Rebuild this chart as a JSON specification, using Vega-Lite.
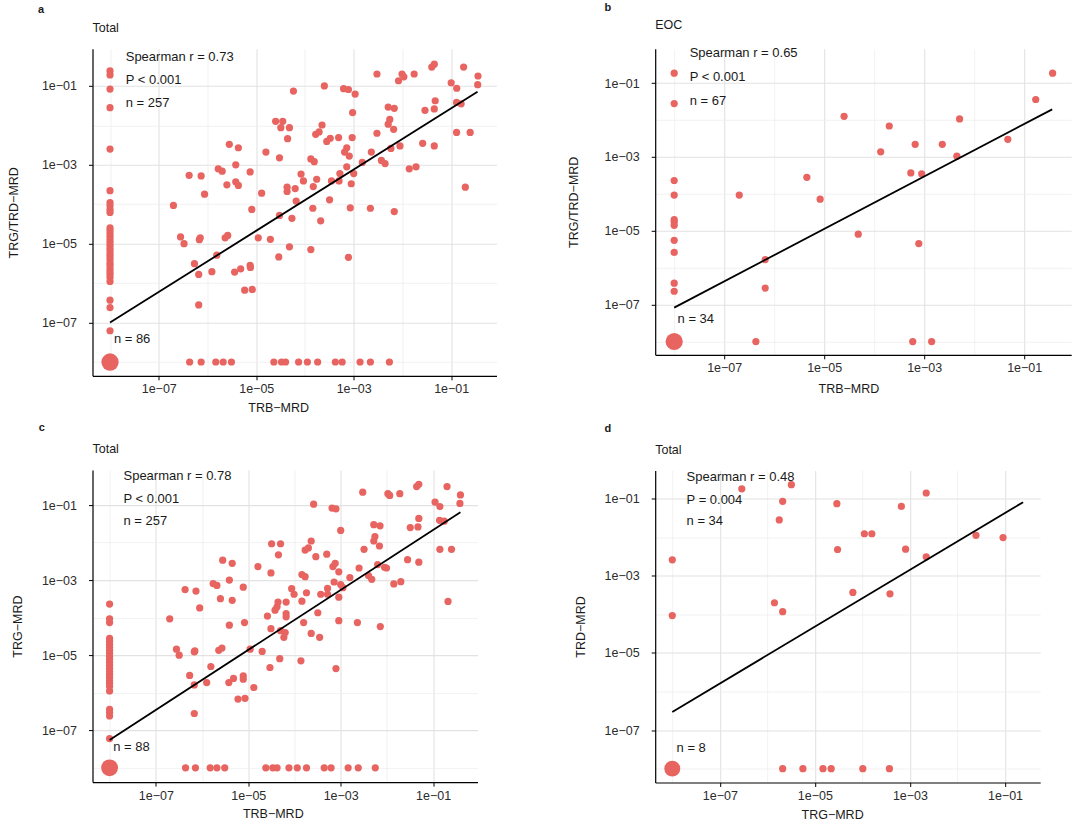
{
"$schema":"https://vega.github.io/schema/vega-lite/v6.json",
"background":"white",
"padding":{"left":7.5,"top":0.8,"right":5,"bottom":5},
"config":{
 "font":"Liberation Sans",
 "view":{"stroke":null},
 "axis":{"domainColor":"#000000","domainWidth":1.2,"tickColor":"#000000","tickWidth":1,"tickSize":4,"labelFont":"Liberation Sans","labelFontSize":12.5,"labelColor":"#2b2b2b","titleFont":"Liberation Sans","titleFontSize":12.5,"titleFontWeight":"normal","titleColor":"#1a1a1a","labelOverlap":false,"labelFlush":false},
 "title":{"font":"Liberation Sans","anchor":"start","frame":"group","color":"#1a1a1a"}
},
"datasets":{
 "a_pts":[
  {"TRB":2.0e-7,"TRG_TRD":9.3e-5},{"TRB":4.2e-7,"TRG_TRD":5.4e-4},{"TRB":7.4e-7,"TRG_TRD":5.2e-4},{"TRB":8.7e-7,"TRG_TRD":1.8e-4},{"TRB":1.66e-6,"TRG_TRD":7.9e-4},{"TRB":2.0e-6,"TRG_TRD":6.9e-4},{"TRB":2.5e-6,"TRG_TRD":3.1e-4},{"TRB":2.8e-6,"TRG_TRD":3.3e-3},{"TRB":4.3e-6,"TRG_TRD":2.7e-3},{"TRB":3.8e-6,"TRG_TRD":1.0e-3},
  {"TRB":3.8e-6,"TRG_TRD":3.7e-4},{"TRB":4.3e-6,"TRG_TRD":3.0e-4},{"TRB":7.5e-6,"TRG_TRD":6.6e-4},{"TRB":8.1e-6,"TRG_TRD":7.4e-5},{"TRB":1.29e-5,"TRG_TRD":1.9e-4},{"TRB":1.58e-5,"TRG_TRD":2.1e-3},{"TRB":2.5e-5,"TRG_TRD":1.26e-2},{"TRB":3.5e-5,"TRG_TRD":1.26e-2},{"TRB":3.2e-5,"TRG_TRD":8.7e-3},{"TRB":4.8e-5,"TRG_TRD":8.7e-3},
  {"TRB":3.0e-5,"TRG_TRD":1.5e-3},{"TRB":4.4e-5,"TRG_TRD":4.6e-3},{"TRB":4.3e-5,"TRG_TRD":2.7e-4},{"TRB":4.3e-5,"TRG_TRD":2.1e-4},{"TRB":6.3e-5,"TRG_TRD":2.5e-4},{"TRB":5.8e-5,"TRG_TRD":7.4e-2},{"TRB":6.6e-5,"TRG_TRD":1.2e-4},{"TRB":8.3e-5,"TRG_TRD":5.8e-4},{"TRB":9.3e-5,"TRG_TRD":3.9e-4},{"TRB":1.32e-4,"TRG_TRD":1.41e-3},
  {"TRB":1.55e-4,"TRG_TRD":1.2e-3},{"TRB":1.48e-4,"TRG_TRD":2.8e-4},{"TRB":1.74e-4,"TRG_TRD":4.3e-4},{"TRB":1.45e-4,"TRG_TRD":7.9e-5},{"TRB":2.24e-4,"TRG_TRD":1.02e-2},{"TRB":2.5e-4,"TRG_TRD":0.1},{"TRB":1.66e-4,"TRG_TRD":5.9e-3},{"TRB":1.95e-4,"TRG_TRD":6.8e-3},{"TRB":2.8e-4,"TRG_TRD":3.9e-3},{"TRB":3.3e-4,"TRG_TRD":4.7e-3},
  {"TRB":4.9e-4,"TRG_TRD":4.9e-3},{"TRB":3.2e-4,"TRG_TRD":1.29e-4},{"TRB":3.5e-4,"TRG_TRD":3.9e-4},{"TRB":5.0e-4,"TRG_TRD":3.9e-4},{"TRB":5.2e-4,"TRG_TRD":6.0e-4},{"TRB":6.2e-4,"TRG_TRD":8.5e-2},{"TRB":7.8e-4,"TRG_TRD":8.1e-2},{"TRB":1.07e-3,"TRG_TRD":6.2e-2},{"TRB":9.5e-4,"TRG_TRD":2.1e-2},{"TRB":9.3e-4,"TRG_TRD":4.9e-3},
  {"TRB":7.2e-4,"TRG_TRD":2.7e-3},{"TRB":6.5e-4,"TRG_TRD":2.1e-3},{"TRB":8.1e-4,"TRG_TRD":1.66e-3},{"TRB":7.2e-4,"TRG_TRD":8.9e-4},{"TRB":1.0e-3,"TRG_TRD":6.0e-4},{"TRB":8.9e-4,"TRG_TRD":3.3e-4},{"TRB":8.5e-4,"TRG_TRD":8.1e-5},{"TRB":1.5e-3,"TRG_TRD":1.15e-3},{"TRB":2.2e-3,"TRG_TRD":7.9e-5},{"TRB":2.3e-3,"TRG_TRD":2.1e-3},
  {"TRB":3.0e-3,"TRG_TRD":0.2},{"TRB":3.0e-3,"TRG_TRD":6.3e-3},{"TRB":5.1e-3,"TRG_TRD":2.9e-2},{"TRB":6.8e-3,"TRG_TRD":2.7e-2},{"TRB":5.5e-3,"TRG_TRD":1.41e-2},{"TRB":5.1e-3,"TRG_TRD":1.07e-2},{"TRB":6.6e-3,"TRG_TRD":7.9e-3},{"TRB":5.8e-3,"TRG_TRD":2.6e-3},{"TRB":8.9e-3,"TRG_TRD":3.0e-3},{"TRB":3.7e-3,"TRG_TRD":1.29e-3},
  {"TRB":4.4e-3,"TRG_TRD":1.07e-3},{"TRB":6.8e-3,"TRG_TRD":6.5e-5},{"TRB":8.3e-3,"TRG_TRD":0.135},{"TRB":9.8e-3,"TRG_TRD":0.2},{"TRB":1.07e-2,"TRG_TRD":0.17},{"TRB":1.74e-2,"TRG_TRD":0.2},{"TRB":1.38e-2,"TRG_TRD":7.9e-4},{"TRB":1.9e-2,"TRG_TRD":8.9e-4},{"TRB":2.6e-2,"TRG_TRD":3.5e-3},{"TRB":2.9e-2,"TRG_TRD":2.4e-2},
  {"TRB":4.5e-2,"TRG_TRD":2.6e-2},{"TRB":4.7e-2,"TRG_TRD":4.2e-2},{"TRB":4.0e-2,"TRG_TRD":0.3},{"TRB":4.5e-2,"TRG_TRD":0.355},{"TRB":4.5e-2,"TRG_TRD":3.0e-3},{"TRB":0.1,"TRG_TRD":0.12},{"TRB":0.13,"TRG_TRD":8.7e-2},{"TRB":0.18,"TRG_TRD":0.3},{"TRB":0.355,"TRG_TRD":0.178},{"TRB":0.35,"TRG_TRD":0.107},
  {"TRB":0.129,"TRG_TRD":3.8e-2},{"TRB":0.16,"TRG_TRD":3.5e-2},{"TRB":0.129,"TRG_TRD":6.6e-3},{"TRB":0.245,"TRG_TRD":6.6e-3},{"TRB":0.195,"TRG_TRD":2.7e-4},{"TRB":3.0e-5,"TRG_TRD":5.2e-5},{"TRB":5.4e-5,"TRG_TRD":4.4e-5},{"TRB":2.1e-4,"TRG_TRD":3.8e-5},{"TRB":2.8e-7,"TRG_TRD":1.48e-5},{"TRB":3.3e-7,"TRG_TRD":1.0e-5},
  {"TRB":6.8e-7,"TRG_TRD":1.26e-5},{"TRB":7.1e-7,"TRG_TRD":1.41e-5},{"TRB":2.3e-6,"TRG_TRD":1.41e-5},{"TRB":2.6e-6,"TRG_TRD":1.62e-5},{"TRB":1.55e-6,"TRG_TRD":5.1e-6},{"TRB":5.4e-7,"TRG_TRD":3.1e-6},{"TRB":6.6e-7,"TRG_TRD":1.66e-6},{"TRB":1.23e-6,"TRG_TRD":1.95e-6},{"TRB":3.6e-6,"TRG_TRD":1.9e-6},{"TRB":4.8e-6,"TRG_TRD":2.3e-6},
  {"TRB":7.5e-6,"TRG_TRD":2.8e-6},{"TRB":7.6e-6,"TRG_TRD":2.5e-6},{"TRB":1.1e-5,"TRG_TRD":1.41e-5},{"TRB":1.95e-5,"TRG_TRD":1.29e-5},{"TRB":2.9e-5,"TRG_TRD":4.6e-6},{"TRB":4.8e-5,"TRG_TRD":8.3e-6},{"TRB":1.32e-4,"TRG_TRD":7.1e-6},{"TRB":7.8e-4,"TRG_TRD":4.5e-6},{"TRB":5.8e-6,"TRG_TRD":6.6e-7},{"TRB":8.3e-6,"TRG_TRD":6.9e-7},
  {"TRB":6.6e-7,"TRG_TRD":2.8e-7},
  {"TRB":1e-8,"TRG_TRD":0.24},{"TRB":1e-8,"TRG_TRD":0.19},{"TRB":1e-8,"TRG_TRD":8.3e-2},{"TRB":1e-8,"TRG_TRD":2.8e-2},{"TRB":1e-8,"TRG_TRD":2.5e-3},{"TRB":1e-8,"TRG_TRD":2.2e-4},{"TRB":1e-8,"TRG_TRD":1.1e-4},{"TRB":1e-8,"TRG_TRD":9.1e-5},{"TRB":1e-8,"TRG_TRD":7.4e-5},{"TRB":1e-8,"TRG_TRD":6.2e-5},
  {"TRB":1e-8,"TRG_TRD":2.5e-5},{"TRB":1e-8,"TRG_TRD":2.14e-5},{"TRB":1e-8,"TRG_TRD":1.78e-5},{"TRB":1e-8,"TRG_TRD":1.51e-5},{"TRB":1e-8,"TRG_TRD":1.26e-5},{"TRB":1e-8,"TRG_TRD":1.07e-5},{"TRB":1e-8,"TRG_TRD":9.1e-6},{"TRB":1e-8,"TRG_TRD":7.6e-6},{"TRB":1e-8,"TRG_TRD":6.5e-6},{"TRB":1e-8,"TRG_TRD":5.4e-6},
  {"TRB":1e-8,"TRG_TRD":4.6e-6},{"TRB":1e-8,"TRG_TRD":3.9e-6},{"TRB":1e-8,"TRG_TRD":3.2e-6},{"TRB":1e-8,"TRG_TRD":2.75e-6},{"TRB":1e-8,"TRG_TRD":2.3e-6},{"TRB":1e-8,"TRG_TRD":1.95e-6},{"TRB":1e-8,"TRG_TRD":1.66e-6},{"TRB":1e-8,"TRG_TRD":1.38e-6},{"TRB":1e-8,"TRG_TRD":1.1e-6},{"TRB":1e-8,"TRG_TRD":3.7e-7},
  {"TRB":1e-8,"TRG_TRD":2.4e-7},{"TRB":1e-8,"TRG_TRD":6.2e-8},
  {"TRB":4.3e-7,"TRG_TRD":1e-8},{"TRB":7.4e-7,"TRG_TRD":1e-8},{"TRB":1.48e-6,"TRG_TRD":1e-8},{"TRB":2.1e-6,"TRG_TRD":1e-8},{"TRB":3.1e-6,"TRG_TRD":1e-8},{"TRB":2.3e-5,"TRG_TRD":1e-8},{"TRB":3.3e-5,"TRG_TRD":1e-8},{"TRB":4.0e-5,"TRG_TRD":1e-8},{"TRB":7.4e-5,"TRG_TRD":1e-8},{"TRB":1.12e-4,"TRG_TRD":1e-8},
  {"TRB":1.82e-4,"TRG_TRD":1e-8},{"TRB":4.2e-4,"TRG_TRD":1e-8},{"TRB":5.8e-4,"TRG_TRD":1e-8},{"TRB":1.35e-3,"TRG_TRD":1e-8},{"TRB":2.2e-3,"TRG_TRD":1e-8},{"TRB":5.4e-3,"TRG_TRD":1e-8}
 ],
 "a_zero":[{"TRB":1e-8,"TRG_TRD":1e-8,"count":86}],
 "a_line":[{"TRB":1e-8,"TRG_TRD":1.0e-7},{"TRB":0.347,"TRG_TRD":0.0708}],
 "a_text":[{"TRB":2.1e-8,"TRG_TRD":0.55,"label":"Spearman r = 0.73"},{"TRB":2.1e-8,"TRG_TRD":0.141,"label":"P < 0.001"},{"TRB":2.1e-8,"TRG_TRD":0.036,"label":"n = 257"},{"TRB":1.2e-8,"TRG_TRD":3.8e-8,"label":"n = 86"}],
 "b_pts":[
  {"TRB":1e-8,"TRG_TRD":0.186},{"TRB":1e-8,"TRG_TRD":2.8e-2},{"TRB":1e-8,"TRG_TRD":2.3e-4},{"TRB":1e-8,"TRG_TRD":9.3e-5},{"TRB":1e-8,"TRG_TRD":2.0e-5},{"TRB":1e-8,"TRG_TRD":1.74e-5},{"TRB":1e-8,"TRG_TRD":1.41e-5},{"TRB":1e-8,"TRG_TRD":5.5e-6},{"TRB":1e-8,"TRG_TRD":2.6e-6},{"TRB":1e-8,"TRG_TRD":3.8e-7},{"TRB":1e-8,"TRG_TRD":2.3e-7},
  {"TRB":2.0e-7,"TRG_TRD":9.3e-5},{"TRB":4.5e-6,"TRG_TRD":2.8e-4},{"TRB":8.3e-6,"TRG_TRD":7.2e-5},{"TRB":2.5e-5,"TRG_TRD":1.26e-2},{"TRB":1.35e-4,"TRG_TRD":1.38e-3},{"TRB":2.0e-4,"TRG_TRD":6.9e-3},{"TRB":5.4e-4,"TRG_TRD":3.7e-4},{"TRB":8.9e-4,"TRG_TRD":3.5e-4},{"TRB":6.6e-4,"TRG_TRD":2.2e-3},{"TRB":2.3e-3,"TRG_TRD":2.2e-3},
  {"TRB":4.5e-3,"TRG_TRD":1.05e-3},{"TRB":5.1e-3,"TRG_TRD":1.07e-2},{"TRB":4.7e-2,"TRG_TRD":3.0e-3},{"TRB":0.17,"TRG_TRD":3.6e-2},{"TRB":0.37,"TRG_TRD":0.186},{"TRB":6.6e-7,"TRG_TRD":1.66e-6},{"TRB":6.6e-7,"TRG_TRD":2.8e-7},{"TRB":4.8e-5,"TRG_TRD":8.1e-6},{"TRB":7.8e-4,"TRG_TRD":4.5e-6},
  {"TRB":4.3e-7,"TRG_TRD":1e-8},{"TRB":5.9e-4,"TRG_TRD":1e-8},{"TRB":1.41e-3,"TRG_TRD":1e-8}
 ],
 "b_zero":[{"TRB":1e-8,"TRG_TRD":1e-8,"count":34}],
 "b_line":[{"TRB":1e-8,"TRG_TRD":8.3e-8},{"TRB":0.363,"TRG_TRD":0.0195}],
 "b_text":[{"TRB":2.04e-8,"TRG_TRD":0.66,"label":"Spearman r = 0.65"},{"TRB":2.04e-8,"TRG_TRD":0.145,"label":"P < 0.001"},{"TRB":2.04e-8,"TRG_TRD":0.032,"label":"n = 67"},{"TRB":1.17e-8,"TRG_TRD":4.0e-8,"label":"n = 34"}],
 "c_pts":[
  {"TRB":2.0e-7,"TRG":9.3e-5},{"TRB":4.3e-7,"TRG":5.6e-4},{"TRB":7.4e-7,"TRG":5.1e-4},{"TRB":8.9e-7,"TRG":1.82e-4},{"TRB":1.74e-6,"TRG":8.1e-4},{"TRB":2.1e-6,"TRG":7.2e-4},{"TRB":2.5e-6,"TRG":3.2e-4},{"TRB":2.8e-6,"TRG":3.4e-3},{"TRB":4.5e-6,"TRG":2.8e-3},{"TRB":3.9e-6,"TRG":1.0e-3},
  {"TRB":4.5e-6,"TRG":2.9e-4},{"TRB":7.8e-6,"TRG":6.5e-4},{"TRB":1.62e-5,"TRG":2.3e-3},{"TRB":2.6e-5,"TRG":1.1e-4},{"TRB":3.2e-5,"TRG":9.3e-3},{"TRB":5.0e-5,"TRG":9.3e-3},{"TRB":4.5e-5,"TRG":4.7e-3},{"TRB":3.1e-5,"TRG":1.55e-3},{"TRB":4.4e-5,"TRG":2.6e-4},{"TRB":4.2e-5,"TRG":1.95e-4},
  {"TRB":6.6e-5,"TRG":2.6e-4},{"TRB":3.8e-5,"TRG":1.58e-4},{"TRB":6.6e-5,"TRG":1.29e-4},{"TRB":6.6e-5,"TRG":1.05e-4},{"TRB":8.7e-5,"TRG":5.9e-4},{"TRB":9.8e-5,"TRG":4.2e-4},{"TRB":1.45e-4,"TRG":1.41e-3},{"TRB":1.7e-4,"TRG":1.23e-3},{"TRB":1.45e-4,"TRG":2.75e-4},{"TRB":1.82e-4,"TRG":4.6e-4},
  {"TRB":2.6e-4,"TRG":0.105},{"TRB":2.3e-4,"TRG":1.1e-2},{"TRB":1.7e-4,"TRG":6.3e-3},{"TRB":2.0e-4,"TRG":7.2e-3},{"TRB":2.9e-4,"TRG":4.2e-3},{"TRB":3.2e-4,"TRG":1.35e-4},{"TRB":3.7e-4,"TRG":4.2e-4},{"TRB":5.2e-4,"TRG":4.2e-4},{"TRB":5.0e-4,"TRG":4.9e-3},{"TRB":5.2e-4,"TRG":6.0e-4},
  {"TRB":6.5e-4,"TRG":8.3e-2},{"TRB":7.9e-4,"TRG":7.9e-2},{"TRB":1.0e-3,"TRG":2.1e-2},{"TRB":6.8e-4,"TRG":2.3e-3},{"TRB":7.6e-4,"TRG":2.8e-3},{"TRB":9.1e-4,"TRG":1.66e-3},{"TRB":7.2e-4,"TRG":8.9e-4},{"TRB":1.0e-3,"TRG":7.6e-4},{"TRB":9.1e-4,"TRG":3.5e-4},{"TRB":1.12e-3,"TRG":6.3e-4},
  {"TRB":1.58e-3,"TRG":1.17e-3},{"TRB":2.5e-3,"TRG":2.1e-3},{"TRB":3.0e-3,"TRG":0.22},{"TRB":3.2e-3,"TRG":6.6e-3},{"TRB":5.2e-3,"TRG":3.0e-2},{"TRB":7.1e-3,"TRG":2.8e-2},{"TRB":5.5e-3,"TRG":1.44e-2},{"TRB":5.2e-3,"TRG":1.1e-2},{"TRB":6.9e-3,"TRG":8.1e-3},{"TRB":6.3e-3,"TRG":2.6e-3},
  {"TRB":8.9e-3,"TRG":2.2e-3},{"TRB":9.8e-3,"TRG":2.1e-3},{"TRB":4.0e-3,"TRG":1.32e-3},{"TRB":4.7e-3,"TRG":1.05e-3},{"TRB":1.05e-2,"TRG":0.2},{"TRB":1.15e-2,"TRG":0.18},{"TRB":1.9e-2,"TRG":0.2},{"TRB":1.41e-2,"TRG":7.9e-4},{"TRB":2.0e-2,"TRG":9.1e-4},{"TRB":2.8e-2,"TRG":3.5e-3},
  {"TRB":3.2e-2,"TRG":2.5e-2},{"TRB":4.7e-2,"TRG":2.6e-2},{"TRB":4.9e-2,"TRG":4.4e-2},{"TRB":4.4e-2,"TRG":0.31},{"TRB":4.9e-2,"TRG":0.355},{"TRB":4.9e-2,"TRG":3.0e-3},{"TRB":0.11,"TRG":0.12},{"TRB":0.14,"TRG":9.1e-2},{"TRB":0.2,"TRG":0.31},{"TRB":0.39,"TRG":0.186},
  {"TRB":0.38,"TRG":0.11},{"TRB":0.138,"TRG":3.9e-2},{"TRB":0.174,"TRG":3.7e-2},{"TRB":0.14,"TRG":6.6e-3},{"TRB":0.25,"TRG":6.6e-3},{"TRB":0.21,"TRG":2.7e-4},
  {"TRB":3.9e-6,"TRG":6.3e-5},{"TRB":8.3e-6,"TRG":7.4e-5},{"TRB":3.1e-5,"TRG":5.1e-5},{"TRB":5.0e-5,"TRG":4.5e-5},{"TRB":5.9e-5,"TRG":3.0e-5},{"TRB":6.3e-5,"TRG":4.0e-5},{"TRB":1.58e-4,"TRG":7.4e-5},{"TRB":2.3e-4,"TRG":3.8e-5},{"TRB":3.5e-4,"TRG":3.0e-5},{"TRB":9.1e-4,"TRG":8.3e-5},
  {"TRB":2.3e-3,"TRG":7.4e-5},{"TRB":7.2e-3,"TRG":5.8e-5},{"TRB":2.8e-7,"TRG":1.45e-5},{"TRB":3.2e-7,"TRG":1.0e-5},{"TRB":6.8e-7,"TRG":1.23e-5},{"TRB":7.0e-7,"TRG":1.3e-5},{"TRB":2.3e-6,"TRG":1.35e-5},{"TRB":2.7e-6,"TRG":1.55e-5},{"TRB":1.55e-6,"TRG":5.0e-6},{"TRB":5.4e-7,"TRG":2.9e-6},
  {"TRB":6.8e-7,"TRG":1.62e-6},{"TRB":1.26e-6,"TRG":1.86e-6},{"TRB":3.8e-6,"TRG":1.86e-6},{"TRB":4.8e-6,"TRG":2.4e-6},{"TRB":7.8e-6,"TRG":2.8e-6},{"TRB":7.8e-6,"TRG":2.3e-6},{"TRB":1.32e-5,"TRG":1.38e-6},{"TRB":6.0e-6,"TRG":6.8e-7},{"TRB":8.5e-6,"TRG":7.1e-7},{"TRB":6.8e-7,"TRG":2.8e-7},
  {"TRB":1.1e-5,"TRG":1.45e-5},{"TRB":2.0e-5,"TRG":1.26e-5},{"TRB":2.95e-5,"TRG":4.7e-6},{"TRB":4.8e-5,"TRG":8.1e-6},{"TRB":1.38e-4,"TRG":7.1e-6},{"TRB":7.9e-4,"TRG":4.4e-6},
  {"TRB":1e-8,"TRG":2.3e-4},{"TRB":1e-8,"TRG":9.3e-5},{"TRB":1e-8,"TRG":7.4e-5},{"TRB":1e-8,"TRG":2.8e-5},{"TRB":1e-8,"TRG":2.34e-5},{"TRB":1e-8,"TRG":1.95e-5},{"TRB":1e-8,"TRG":1.62e-5},{"TRB":1e-8,"TRG":1.35e-5},{"TRB":1e-8,"TRG":1.12e-5},{"TRB":1e-8,"TRG":9.3e-6},
  {"TRB":1e-8,"TRG":7.8e-6},{"TRB":1e-8,"TRG":6.5e-6},{"TRB":1e-8,"TRG":5.4e-6},{"TRB":1e-8,"TRG":4.5e-6},{"TRB":1e-8,"TRG":3.7e-6},{"TRB":1e-8,"TRG":3.1e-6},{"TRB":1e-8,"TRG":2.6e-6},{"TRB":1e-8,"TRG":2.1e-6},{"TRB":1e-8,"TRG":1.78e-6},{"TRB":1e-8,"TRG":1.48e-6},
  {"TRB":1e-8,"TRG":1.12e-6},{"TRB":1e-8,"TRG":3.6e-7},{"TRB":1e-8,"TRG":3.0e-7},{"TRB":1e-8,"TRG":2.4e-7},{"TRB":1e-8,"TRG":6.0e-8},
  {"TRB":4.4e-7,"TRG":1e-8},{"TRB":7.2e-7,"TRG":1e-8},{"TRB":1.5e-6,"TRG":1e-8},{"TRB":2.1e-6,"TRG":1e-8},{"TRB":3.1e-6,"TRG":1e-8},{"TRB":2.4e-5,"TRG":1e-8},{"TRB":3.4e-5,"TRG":1e-8},{"TRB":4.2e-5,"TRG":1e-8},{"TRB":7.6e-5,"TRG":1e-8},{"TRB":1.15e-4,"TRG":1e-8},
  {"TRB":1.82e-4,"TRG":1e-8},{"TRB":4.4e-4,"TRG":1e-8},{"TRB":6.2e-4,"TRG":1e-8},{"TRB":1.45e-3,"TRG":1e-8},{"TRB":2.4e-3,"TRG":1e-8},{"TRB":5.6e-3,"TRG":1e-8}
 ],
 "c_zero":[{"TRB":1e-8,"TRG":1e-8,"count":88}],
 "c_line":[{"TRB":1e-8,"TRG":5.5e-8},{"TRB":0.389,"TRG":0.0646}],
 "c_text":[{"TRB":2.0e-8,"TRG":0.59,"label":"Spearman r = 0.78"},{"TRB":2.0e-8,"TRG":0.148,"label":"P < 0.001"},{"TRB":2.0e-8,"TRG":0.037,"label":"n = 257"},{"TRB":1.2e-8,"TRG":3.6e-8,"label":"n = 88"}],
 "d_pts":[
  {"TRG":1e-8,"TRD":2.6e-3},{"TRG":1e-8,"TRD":9.3e-5},
  {"TRG":2.9e-7,"TRD":0.18},{"TRG":3.2e-6,"TRD":0.23},{"TRG":2.1e-6,"TRD":8.5e-2},{"TRG":1.78e-6,"TRD":2.8e-2},{"TRG":1.41e-6,"TRD":2.0e-4},{"TRG":2.1e-6,"TRD":1.17e-4},{"TRG":2.9e-5,"TRD":7.4e-2},{"TRG":3.0e-5,"TRD":4.8e-3},{"TRG":1.1e-4,"TRD":1.23e-2},{"TRG":1.58e-4,"TRD":1.23e-2},
  {"TRG":6.3e-5,"TRD":3.7e-4},{"TRG":3.8e-4,"TRD":3.4e-4},{"TRG":6.6e-4,"TRD":6.3e-2},{"TRG":8.1e-4,"TRD":4.9e-3},{"TRG":2.2e-3,"TRD":0.14},{"TRG":2.2e-3,"TRD":3.1e-3},{"TRG":2.45e-2,"TRD":1.12e-2},{"TRG":9.1e-2,"TRD":9.8e-3},
  {"TRG":2.1e-6,"TRD":1e-8},{"TRG":5.6e-6,"TRD":1e-8},{"TRG":1.48e-5,"TRD":1e-8},{"TRG":2.2e-5,"TRD":1e-8},{"TRG":1.02e-4,"TRD":1e-8},{"TRG":3.7e-4,"TRD":1e-8}
 ],
 "d_zero":[{"TRG":1e-8,"TRD":1e-8,"count":8}],
 "d_line":[{"TRG":1e-8,"TRD":2.95e-7},{"TRG":0.24,"TRD":0.081}],
 "d_text":[{"TRG":2.0e-8,"TRD":0.363,"label":"Spearman r = 0.48"},{"TRG":2.0e-8,"TRD":0.093,"label":"P = 0.004"},{"TRG":2.0e-8,"TRD":0.0257,"label":"n = 34"},{"TRG":1.23e-8,"TRD":3.5e-8,"label":"n = 8"}]
},
"hconcat":[
 {"vconcat":[
  {"title":{"text":"a","fontSize":11,"fontWeight":"bold","dx":-54.4,"offset":6.8},
   "vconcat":[{
    "width":404,"height":327,
    "title":{"text":"Total","fontSize":12.5,"fontWeight":"normal","offset":14.5},
    "encoding":{
     "x":{"field":"TRB","type":"quantitative","scale":{"type":"log","domain":[4.37e-9,0.851],"nice":false},
      "axis":{"values":[1e-8,1e-7,1e-6,1e-5,1e-4,1e-3,1e-2,1e-1],"labelExpr":"round(-log(datum.value)/LN10) % 2 == 1 ? '1e−0' + round(-log(datum.value)/LN10) : ''","grid":true,"gridColor":{"condition":{"test":"round(-log(datum.value)/LN10) % 2 == 1","value":"#E2E2E2"},"value":"#EEEEEE"},"gridWidth":{"condition":{"test":"round(-log(datum.value)/LN10) % 2 == 1","value":1.1},"value":0.8},"tickOpacity":{"condition":{"test":"round(-log(datum.value)/LN10) % 2 == 1","value":1},"value":0},"labelPadding":3,"title":"TRB−MRD","titleX":185.7,"titleY":32,"titleBaseline":"middle"}},
     "y":{"field":"TRG_TRD","type":"quantitative","scale":{"type":"log","domain":[4.47e-9,0.871],"nice":false},
      "axis":{"values":[1e-8,1e-7,1e-6,1e-5,1e-4,1e-3,1e-2,1e-1],"labelExpr":"round(-log(datum.value)/LN10) % 2 == 1 ? '1e−0' + round(-log(datum.value)/LN10) : ''","grid":true,"gridColor":{"condition":{"test":"round(-log(datum.value)/LN10) % 2 == 1","value":"#E2E2E2"},"value":"#EEEEEE"},"gridWidth":{"condition":{"test":"round(-log(datum.value)/LN10) % 2 == 1","value":1.1},"value":0.8},"tickOpacity":{"condition":{"test":"round(-log(datum.value)/LN10) % 2 == 1","value":1},"value":0},"labelPadding":12,"title":"TRG/TRD−MRD","titleX":-78.6,"titleBaseline":"middle"}}
    },
    "layer":[
     {"data":{"name":"a_pts"},"mark":{"type":"circle","size":52,"opacity":1,"color":"#E76461"}},
     {"data":{"name":"a_zero"},"mark":{"type":"circle","size":300,"opacity":1,"color":"#E76461"}},
     {"data":{"name":"a_line"},"mark":{"type":"line","color":"#000000","strokeWidth":1.8}},
     {"data":{"name":"a_text"},"mark":{"type":"text","align":"left","baseline":"middle","fontSize":13,"color":"#1a1a1a","font":"Liberation Sans"},"encoding":{"text":{"field":"label"}}}
    ]
   }]
  },
  {"title":{"text":"c","fontSize":11,"fontWeight":"bold","dx":-53.7,"offset":9.7},
   "vconcat":[{
    "width":385,"height":312,
    "title":{"text":"Total","fontSize":12.5,"fontWeight":"normal","offset":14.5},
    "encoding":{
     "x":{"field":"TRB","type":"quantitative","scale":{"type":"log","domain":[4.27e-9,0.912],"nice":false},
      "axis":{"values":[1e-8,1e-7,1e-6,1e-5,1e-4,1e-3,1e-2,1e-1],"labelExpr":"round(-log(datum.value)/LN10) % 2 == 1 ? '1e−0' + round(-log(datum.value)/LN10) : ''","grid":true,"gridColor":{"condition":{"test":"round(-log(datum.value)/LN10) % 2 == 1","value":"#E2E2E2"},"value":"#EEEEEE"},"gridWidth":{"condition":{"test":"round(-log(datum.value)/LN10) % 2 == 1","value":1.1},"value":0.8},"tickOpacity":{"condition":{"test":"round(-log(datum.value)/LN10) % 2 == 1","value":1},"value":0},"labelPadding":3,"title":"TRB−MRD","titleX":180.3,"titleY":31.3,"titleBaseline":"middle"}},
     "y":{"field":"TRG","type":"quantitative","scale":{"type":"log","domain":[4.17e-9,0.851],"nice":false},
      "axis":{"values":[1e-8,1e-7,1e-6,1e-5,1e-4,1e-3,1e-2,1e-1],"labelExpr":"round(-log(datum.value)/LN10) % 2 == 1 ? '1e−0' + round(-log(datum.value)/LN10) : ''","grid":true,"gridColor":{"condition":{"test":"round(-log(datum.value)/LN10) % 2 == 1","value":"#E2E2E2"},"value":"#EEEEEE"},"gridWidth":{"condition":{"test":"round(-log(datum.value)/LN10) % 2 == 1","value":1.1},"value":0.8},"tickOpacity":{"condition":{"test":"round(-log(datum.value)/LN10) % 2 == 1","value":1},"value":0},"labelPadding":12,"title":"TRG−MRD","titleX":-74.7,"titleBaseline":"middle"}}
    },
    "layer":[
     {"data":{"name":"c_pts"},"mark":{"type":"circle","size":52,"opacity":1,"color":"#E76461"}},
     {"data":{"name":"c_zero"},"mark":{"type":"circle","size":285,"opacity":1,"color":"#E76461"}},
     {"data":{"name":"c_line"},"mark":{"type":"line","color":"#000000","strokeWidth":1.8}},
     {"data":{"name":"c_text"},"mark":{"type":"text","align":"left","baseline":"middle","fontSize":13,"color":"#1a1a1a","font":"Liberation Sans"},"encoding":{"text":{"field":"label"}}}
    ]
   }]
  }
 ],"spacing":7.3},
 {"vconcat":[
  {"title":{"text":"b","fontSize":11,"fontWeight":"bold","dx":-50.6,"offset":5.8},
   "vconcat":[{
    "width":416,"height":306,
    "title":{"text":"EOC","fontSize":12.5,"fontWeight":"normal","offset":15.8},
    "encoding":{
     "x":{"field":"TRB","type":"quantitative","scale":{"type":"log","domain":[4.17e-9,0.871],"nice":false},
      "axis":{"values":[1e-8,1e-7,1e-6,1e-5,1e-4,1e-3,1e-2,1e-1],"labelExpr":"round(-log(datum.value)/LN10) % 2 == 1 ? '1e−0' + round(-log(datum.value)/LN10) : ''","grid":true,"gridColor":{"condition":{"test":"round(-log(datum.value)/LN10) % 2 == 1","value":"#E2E2E2"},"value":"#EEEEEE"},"gridWidth":{"condition":{"test":"round(-log(datum.value)/LN10) % 2 == 1","value":1.1},"value":0.8},"tickOpacity":{"condition":{"test":"round(-log(datum.value)/LN10) % 2 == 1","value":1},"value":0},"labelPadding":3,"title":"TRB−MRD","titleX":193.2,"titleY":34,"titleBaseline":"middle"}},
     "y":{"field":"TRG_TRD","type":"quantitative","scale":{"type":"log","domain":[4.37e-9,0.851],"nice":false},
      "axis":{"values":[1e-8,1e-7,1e-6,1e-5,1e-4,1e-3,1e-2,1e-1],"labelExpr":"round(-log(datum.value)/LN10) % 2 == 1 ? '1e−0' + round(-log(datum.value)/LN10) : ''","grid":true,"gridColor":{"condition":{"test":"round(-log(datum.value)/LN10) % 2 == 1","value":"#E2E2E2"},"value":"#EEEEEE"},"gridWidth":{"condition":{"test":"round(-log(datum.value)/LN10) % 2 == 1","value":1.1},"value":0.8},"tickOpacity":{"condition":{"test":"round(-log(datum.value)/LN10) % 2 == 1","value":1},"value":0},"labelPadding":12,"title":"TRG/TRD−MRD","titleX":-81.3,"titleBaseline":"middle"}}
    },
    "layer":[
     {"data":{"name":"b_pts"},"mark":{"type":"circle","size":52,"opacity":1,"color":"#E76461"}},
     {"data":{"name":"b_zero"},"mark":{"type":"circle","size":295,"opacity":1,"color":"#E76461"}},
     {"data":{"name":"b_line"},"mark":{"type":"line","color":"#000000","strokeWidth":1.8}},
     {"data":{"name":"b_text"},"mark":{"type":"text","align":"left","baseline":"middle","fontSize":13,"color":"#1a1a1a","font":"Liberation Sans"},"encoding":{"text":{"field":"label"}}}
    ]
   }]
  },
  {"title":{"text":"d","fontSize":11,"fontWeight":"bold","dx":-50.6,"offset":9.7},
   "vconcat":[{
    "width":385,"height":312,
    "title":{"text":"Total","fontSize":12.5,"fontWeight":"normal","offset":13.9},
    "encoding":{
     "x":{"field":"TRG","type":"quantitative","scale":{"type":"log","domain":[4.37e-9,0.55],"nice":false},
      "axis":{"values":[1e-8,1e-7,1e-6,1e-5,1e-4,1e-3,1e-2,1e-1],"labelExpr":"round(-log(datum.value)/LN10) % 2 == 1 ? '1e−0' + round(-log(datum.value)/LN10) : ''","grid":true,"gridColor":{"condition":{"test":"round(-log(datum.value)/LN10) % 2 == 1","value":"#E2E2E2"},"value":"#EEEEEE"},"gridWidth":{"condition":{"test":"round(-log(datum.value)/LN10) % 2 == 1","value":1.1},"value":0.8},"tickOpacity":{"condition":{"test":"round(-log(datum.value)/LN10) % 2 == 1","value":1},"value":0},"labelPadding":3,"title":"TRG−MRD","titleX":176.9,"titleY":31.6,"titleBaseline":"middle"}},
     "y":{"field":"TRD","type":"quantitative","scale":{"type":"log","domain":[4.37e-9,0.537],"nice":false},
      "axis":{"values":[1e-8,1e-7,1e-6,1e-5,1e-4,1e-3,1e-2,1e-1],"labelExpr":"round(-log(datum.value)/LN10) % 2 == 1 ? '1e−0' + round(-log(datum.value)/LN10) : ''","grid":true,"gridColor":{"condition":{"test":"round(-log(datum.value)/LN10) % 2 == 1","value":"#E2E2E2"},"value":"#EEEEEE"},"gridWidth":{"condition":{"test":"round(-log(datum.value)/LN10) % 2 == 1","value":1.1},"value":0.8},"tickOpacity":{"condition":{"test":"round(-log(datum.value)/LN10) % 2 == 1","value":1},"value":0},"labelPadding":12,"title":"TRD−MRD","titleX":-74.8,"titleBaseline":"middle"}}
    },
    "layer":[
     {"data":{"name":"d_pts"},"mark":{"type":"circle","size":52,"opacity":1,"color":"#E76461"}},
     {"data":{"name":"d_zero"},"mark":{"type":"circle","size":255,"opacity":1,"color":"#E76461"}},
     {"data":{"name":"d_line"},"mark":{"type":"line","color":"#000000","strokeWidth":1.8}},
     {"data":{"name":"d_text"},"mark":{"type":"text","align":"left","baseline":"middle","fontSize":13,"color":"#1a1a1a","font":"Liberation Sans"},"encoding":{"text":{"field":"label"}}}
    ]
   }]
  }
 ],"spacing":26.7}
],
"spacing":70.7
}
